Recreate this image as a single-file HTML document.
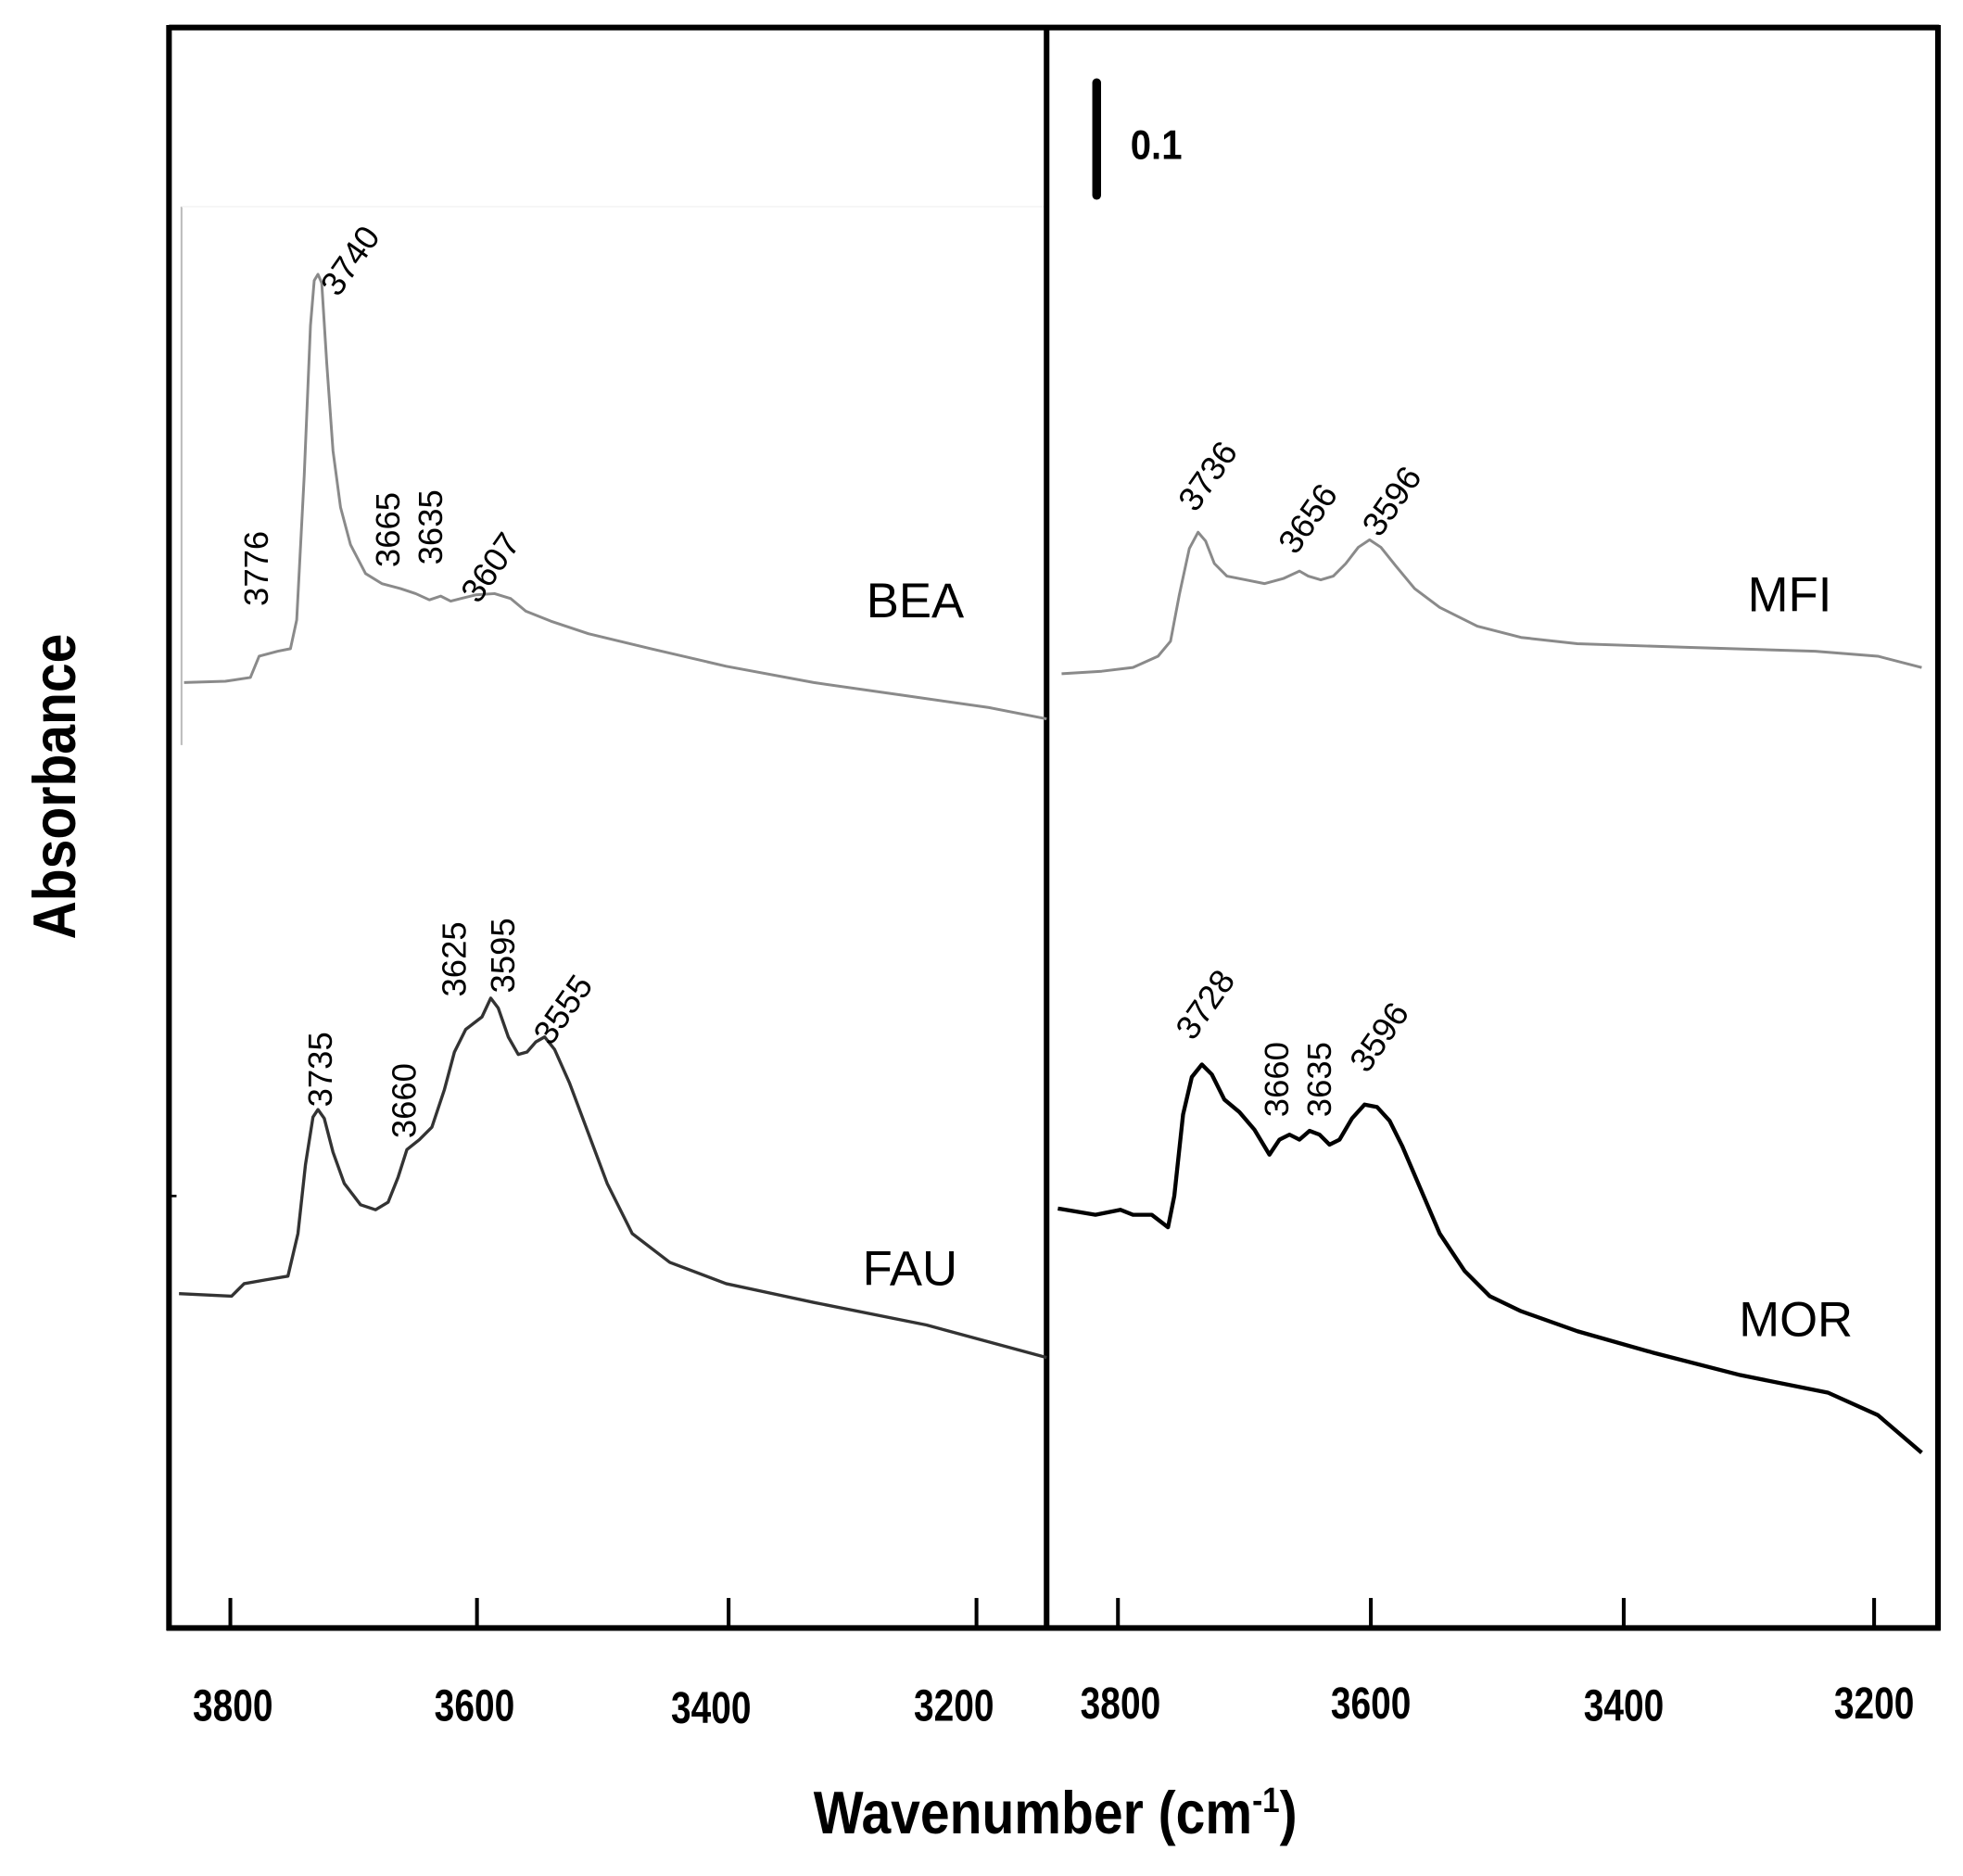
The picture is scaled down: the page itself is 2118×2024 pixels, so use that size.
<!DOCTYPE html>
<html><head><meta charset="utf-8"><style>html,body{margin:0;padding:0;background:#fff}svg{display:block}</style></head>
<body>
<svg width="2118" height="2024" viewBox="0 0 1568 1498" preserveAspectRatio="none" xmlns="http://www.w3.org/2000/svg" font-family="Liberation Sans, sans-serif">
<rect width="1568" height="1498" fill="#fff"/>
<line x1="145" y1="165" x2="145" y2="595" stroke="#bbb" stroke-width="1.5"/>
<line x1="145" y1="165" x2="836" y2="165" stroke="#f2f2f2" stroke-width="1"/>
<g stroke="#000" stroke-width="4.5" fill="none">
<line x1="135" y1="22" x2="1549" y2="22"/>
<line x1="135" y1="20" x2="135" y2="1302"/>
<line x1="836" y1="20" x2="836" y2="1302"/>
<line x1="1548" y1="20" x2="1548" y2="1302"/>
<line x1="133" y1="1300" x2="1550" y2="1300"/>
</g>
<g stroke="#000" stroke-width="3">
<line x1="184" y1="1300" x2="184" y2="1276"/><line x1="381" y1="1300" x2="381" y2="1276"/>
<line x1="582" y1="1300" x2="582" y2="1276"/><line x1="780" y1="1300" x2="780" y2="1276"/>
<line x1="893" y1="1300" x2="893" y2="1276"/><line x1="1095" y1="1300" x2="1095" y2="1276"/>
<line x1="1297" y1="1300" x2="1297" y2="1276"/><line x1="1497" y1="1300" x2="1497" y2="1276"/>
<line x1="135" y1="955" x2="141" y2="955" stroke-width="2"/>
</g>
<g font-weight="bold" font-size="36" text-anchor="middle" fill="#000">
<text transform="translate(186,1374) scale(0.8,1)">3800</text>
<text transform="translate(379,1374) scale(0.8,1)">3600</text>
<text transform="translate(568,1376) scale(0.8,1)">3400</text>
<text transform="translate(762,1374) scale(0.8,1)">3200</text>
<text transform="translate(895,1372) scale(0.8,1)">3800</text>
<text transform="translate(1095,1372) scale(0.8,1)">3600</text>
<text transform="translate(1297,1374) scale(0.8,1)">3400</text>
<text transform="translate(1497,1372) scale(0.8,1)">3200</text>
<text transform="translate(843,1464) scale(0.88,1)" font-size="48">Wavenumber (cm<tspan font-size="28" dy="-17">-1</tspan><tspan dy="17">)</tspan></text>
<text transform="translate(60,628) rotate(-90) scale(0.88,1)" font-size="48">Absorbance</text>
</g>
<line x1="876" y1="66" x2="876" y2="156" stroke="#000" stroke-width="7" stroke-linecap="round"/>
<text transform="translate(903,127) scale(0.9,1)" font-weight="bold" font-size="33">0.1</text>
<g fill="none" stroke-linejoin="round">
<polyline stroke="#8a8a8a" stroke-width="2.2" points="147,545 180,544 200,541 207,524 222,520 232,518 237,495 243,380 248,260 251,224 254,219 257,226 261,290 266,360 272,405 280,435 292,458 305,466 320,470 332,474 343,479 352,476 360,480 368,478 380,475 395,474 408,478 420,488 440,496 470,506 520,518 580,532 650,545 720,555 790,565 836,574"/>
<polyline stroke="#8a8a8a" stroke-width="2.2" points="848,538 880,536 905,533 925,524 935,512 942,475 950,438 957,425 963,432 970,450 980,460 995,463 1010,466 1025,462 1038,456 1045,460 1055,463 1065,460 1075,450 1085,437 1094,431 1103,437 1115,452 1130,470 1150,485 1180,500 1215,509 1260,514 1350,517 1450,520 1500,524 1535,533"/>
<polyline stroke="#333" stroke-width="2.5" points="143,1033 185,1035 195,1025 212,1022 230,1019 238,985 244,930 250,892 254,886 259,893 266,920 275,945 288,962 300,966 310,960 318,940 325,918 335,910 345,900 355,870 363,840 372,822 385,812 392,797 398,805 406,828 414,842 421,840 428,832 435,828 443,838 455,865 470,905 485,945 505,985 535,1008 580,1025 650,1040 740,1058 836,1084"/>
<polyline stroke="#000" stroke-width="3.2" points="845,965 875,970 895,966 905,970 920,970 933,980 938,955 945,890 952,860 960,850 968,858 978,878 990,888 1002,902 1014,922 1022,910 1030,906 1038,910 1046,903 1054,906 1062,914 1070,910 1080,893 1090,882 1100,884 1110,895 1120,915 1135,950 1150,985 1170,1015 1190,1035 1215,1047 1260,1063 1320,1080 1390,1098 1460,1112 1500,1130 1535,1160"/>
</g>
<g font-size="27" fill="#000">
<text transform="translate(214,484) rotate(-90)">3776</text>
<text transform="translate(270,238) rotate(-55)">3740</text>
<text transform="translate(319,453) rotate(-90)">3665</text>
<text transform="translate(353,451) rotate(-90)">3635</text>
<text transform="translate(382,483) rotate(-55)">3607</text>
<text transform="translate(955,410) rotate(-55)">3736</text>
<text transform="translate(1035,444) rotate(-55)">3656</text>
<text transform="translate(1102,430) rotate(-55)">3596</text>
<text transform="translate(265,884) rotate(-90)">3735</text>
<text transform="translate(332,909) rotate(-90)">3660</text>
<text transform="translate(372,796) rotate(-90)">3625</text>
<text transform="translate(411,793) rotate(-90)">3595</text>
<text transform="translate(440,836) rotate(-55)">3555</text>
<text transform="translate(953,832) rotate(-55)">3728</text>
<text transform="translate(1029,892) rotate(-90)">3660</text>
<text transform="translate(1063,892) rotate(-90)">3635</text>
<text transform="translate(1092,858) rotate(-55)">3596</text>
</g>
<g font-size="39" fill="#000">
<text x="692" y="493">BEA</text>
<text x="1396" y="488">MFI</text>
<text x="689" y="1026">FAU</text>
<text x="1389" y="1067">MOR</text>
</g>
</svg>
</body></html>
